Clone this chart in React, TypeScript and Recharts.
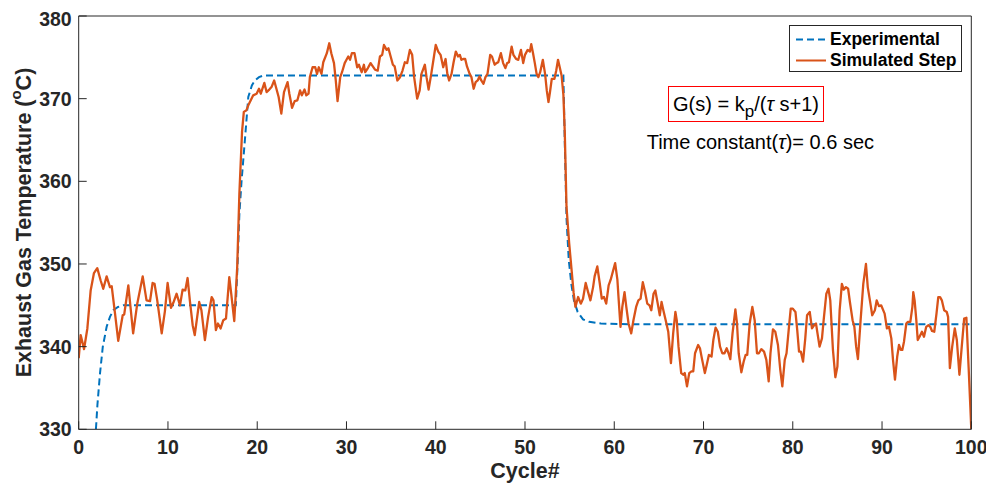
import React from 'react';
import { LineChart, Line, XAxis, YAxis } from 'recharts';

// Simulated step (orange) — cycle numbers and temperatures
const simCycle = [
  0, 0.22, 0.6, 0.97, 1.34, 1.71, 2.08, 2.46, 2.75, 3.13,
  3.5, 3.7, 4.07, 4.43, 4.93, 5.1, 5.56, 6.1, 6.56, 7.17,
  7.6, 7.99, 8.28, 8.5, 8.8, 9.3, 9.66, 9.96, 10.34, 10.6,
  10.97, 11.35, 11.64, 11.94, 12.2, 12.45, 12.77, 13.0, 13.5, 13.75,
  14.14, 14.5, 14.9, 15.1, 15.37, 15.6, 15.9, 16.2, 16.5, 16.87,
  17.1, 17.43, 17.76, 18.0, 18.3, 18.5, 18.8, 19.0, 19.18, 19.55,
  19.93, 20.2, 20.4, 20.8, 21.05, 21.35, 21.6, 21.9, 22.15, 22.4,
  22.7, 23.0, 23.4, 23.6, 23.9, 24.2, 24.5, 24.8, 25.0, 25.3,
  25.5, 25.75, 25.9, 26.2, 26.5, 26.7, 26.9, 27.2, 27.4, 27.8,
  28.07, 28.3, 28.6, 28.8, 29.0, 29.3, 29.5, 29.8, 30.0, 30.2,
  30.4, 30.6, 30.9, 31.2, 31.4, 31.7, 31.95, 32.1, 32.4, 32.7,
  32.95, 33.2, 33.5, 33.75, 34.0, 34.2, 34.5, 34.7, 34.95, 35.2,
  35.4, 35.7, 36.0, 36.28, 36.54, 36.8, 37.1, 37.36, 37.58, 37.92,
  38.2, 38.4, 38.78, 38.97, 39.2, 39.5, 39.8, 40.0, 40.28, 40.54,
  40.84, 41.1, 41.3, 41.5, 41.77, 42.0, 42.25, 42.5, 42.7, 42.88,
  43.07, 43.3, 43.5, 43.8, 44.0, 44.25, 44.47, 44.7, 44.9, 45.1,
  45.35, 45.57, 45.8, 46.1, 46.3, 46.6, 46.8, 47.0, 47.3, 47.55,
  47.8, 48.0, 48.2, 48.5, 48.7, 49.0, 49.25, 49.55, 49.8, 50.0,
  50.3, 50.55, 50.7, 50.9, 51.1, 51.3, 51.5, 51.7, 52.0, 52.25,
  52.44, 52.63, 52.8, 53.0, 53.3, 53.5, 53.7, 54.1, 54.3, 54.46,
  54.65, 54.95, 55.2, 55.45, 55.65, 55.95, 56.25, 56.5, 56.8, 57.07,
  57.33, 57.63, 57.8, 58.1, 58.37, 58.6, 58.85, 59.1, 59.37, 59.6,
  59.85, 60.1, 60.35, 60.5, 60.7, 60.9, 61.15, 61.35, 61.6, 61.9,
  62.15, 62.45, 62.7, 62.95, 63.2, 63.45, 63.7, 63.95, 64.15, 64.4,
  64.6, 64.87, 65.1, 65.3, 65.5, 65.8, 66.05, 66.35, 66.6, 66.85,
  67.0, 67.2, 67.5, 67.75, 67.9, 68.15, 68.4, 68.65, 68.85, 69.05,
  69.4, 69.6, 69.85, 70.15, 70.4, 70.6, 70.9, 71.1, 71.35, 71.6,
  71.85, 72.1, 72.35, 72.6, 72.8, 73.0, 73.25, 73.57, 73.75, 73.94,
  74.24, 74.5, 74.72, 74.9, 75.17, 75.47, 75.73, 75.99, 76.2, 76.48,
  76.78, 77.04, 77.3, 77.5, 77.78, 78.04, 78.34, 78.6, 78.83, 79.1,
  79.3, 79.54, 79.77, 80.0, 80.3, 80.5, 80.7, 80.9, 81.15, 81.4,
  81.6, 81.9, 82.15, 82.4, 82.6, 82.8, 83.0, 83.27, 83.46, 83.76,
  84.0, 84.2, 84.5, 84.77, 85.0, 85.25, 85.5, 85.7, 85.96, 86.2,
  86.4, 86.7, 86.9, 87.1, 87.3, 87.6, 87.9, 88.2, 88.4, 88.7,
  88.9, 89.2, 89.4, 89.65, 89.9, 90.29, 90.55, 90.78, 91.04, 91.23,
  91.45, 91.7, 91.9, 92.1, 92.27, 92.46, 92.72, 92.9, 93.17, 93.4,
  93.5, 93.65, 93.84, 94.0, 94.2, 94.47, 94.7, 94.95, 95.2, 95.4,
  95.6, 95.85, 96.1, 96.3, 96.5, 96.7, 96.96, 97.25, 97.4, 97.6,
  97.86, 98.15, 98.38, 98.67, 98.9, 99.2, 99.45, 99.7, 100,
];
const simTemp = [
  338.6, 341.4, 339.7, 342.2, 346.8, 348.9, 349.5, 348.0, 347.0, 348.5,
  347.2, 347.3, 344.0, 340.7, 343.8, 343.9, 347.4, 341.6, 345.2, 348.5,
  345.6, 345.5, 347.7, 347.6, 345.6, 341.6, 344.3, 347.7, 344.7, 345.3,
  346.4, 345.0, 346.9, 346.8, 348.3, 345.6, 342.6, 341.4, 345.4, 344.4,
  340.8, 343.6, 346.0, 345.6, 342.0, 342.8, 342.2, 343.2, 343.4, 348.4,
  346.3, 343.1, 349.7, 358.5, 366.0, 368.4, 368.6, 369.2, 369.6, 370.4,
  370.6, 371.2, 370.6, 371.9, 370.8, 371.1, 371.4, 372.2, 371.2, 370.2,
  368.2, 370.8, 372.0, 370.6, 368.9, 369.7, 369.8, 371.0, 370.4, 371.1,
  370.4, 370.6, 372.6, 373.8, 373.8, 373.0, 373.8, 373.0, 374.4, 375.5,
  376.7, 375.5, 374.3, 372.2, 369.7, 372.6, 373.2, 374.3, 374.7, 375.1,
  374.7, 375.5, 375.5, 373.8, 374.1, 373.2, 374.1, 373.2, 373.7, 374.3,
  373.9, 373.5, 373.4, 375.1, 375.3, 376.5, 375.9, 376.1, 375.1, 374.1,
  373.9, 372.2, 372.6, 373.4, 374.4, 374.3, 375.9, 375.3, 372.6, 370.0,
  371.0, 373.0, 374.1, 372.6, 371.1, 373.0, 375.1, 376.5, 375.7, 375.3,
  373.8, 374.8, 373.0, 372.2, 373.0, 374.4, 375.7, 375.1, 375.3, 374.7,
  374.8, 374.8, 373.9, 373.0, 372.6, 371.2, 372.0, 372.2, 372.7, 372.2,
  371.8, 372.6, 373.0, 375.3, 375.1, 374.1, 374.3, 374.4, 375.5, 374.3,
  373.7, 374.3, 374.4, 376.3, 375.3, 374.8, 374.7, 375.9, 374.3, 375.3,
  375.9, 375.7, 376.6, 375.5, 374.3, 373.0, 372.6, 373.2, 374.7, 373.0,
  371.0, 369.6, 370.8, 372.4, 372.4, 373.4, 374.7, 372.8, 370.5, 365.8,
  356.9, 352.5, 349.5, 346.5, 344.8, 346.0, 345.2, 345.8, 347.7, 346.6,
  345.6, 347.2, 348.5, 349.7, 347.7, 345.8, 346.0, 345.2, 347.4, 348.1,
  349.1, 350.1, 348.1, 345.6, 342.4, 344.8, 346.6, 344.8, 342.8, 341.6,
  343.2, 344.8, 345.6, 345.8, 347.8, 346.6, 345.2, 345.0, 344.4, 346.4,
  346.8, 345.2, 343.8, 345.4, 344.4, 343.0, 341.8, 338.0, 341.6, 344.2,
  343.2, 340.0, 336.8, 336.6, 336.8, 335.2, 336.8, 337.0, 337.0, 339.2,
  340.2, 339.8, 338.4, 336.8, 338.0, 339.0, 338.8, 340.8, 342.3, 341.8,
  340.0, 339.2, 339.2, 339.8, 339.2, 338.5, 341.6, 344.5, 342.8, 339.2,
  336.9, 338.2, 339.0, 339.0, 342.8, 344.8, 343.2, 339.2, 339.2, 339.7,
  339.4, 338.4, 335.8, 339.2, 342.1, 341.8, 340.2, 337.2, 335.2, 338.4,
  339.2, 342.0, 344.6, 344.6, 344.2, 342.0, 339.4, 339.4, 338.2, 341.0,
  343.8, 344.2, 342.2, 342.6, 342.8, 341.4, 340.0, 341.0, 343.2, 346.4,
  347.0, 345.6, 339.6, 336.3, 337.6, 344.4, 347.6, 346.9, 347.2, 347.0,
  345.4, 343.2, 342.4, 340.0, 338.5, 343.2, 347.6, 350.0, 347.2, 345.2,
  343.8, 344.4, 345.6, 344.9, 345.0, 344.0, 342.2, 342.4, 341.0, 338.4,
  336.0, 338.8, 340.2, 339.6, 339.6, 340.6, 342.8, 343.0, 343.0, 344.8,
  346.6, 345.6, 343.2, 340.8, 341.2, 341.8, 341.2, 342.4, 342.6, 342.4,
  341.9, 341.8, 344.0, 346.0, 346.0, 345.6, 344.4, 344.2, 343.6, 337.4,
  340.0, 342.2, 340.8, 336.6, 339.6, 343.4, 343.5, 337.5, 330,
];

// Experimental (blue dashed)
const expCycle = [
  1.93, 2.1, 2.39, 2.7, 3.13, 3.5, 3.88, 4.4, 5.0,
  17.6, 17.8, 18.0, 18.25, 18.62, 19.0, 19.4, 19.74, 20.2, 20.7,
  54.3, 54.45, 54.65, 54.9, 55.2, 55.5, 55.9, 56.5, 57.2, 58.5, 62, 100,
];
const expTemp = [
  330, 333, 336.8, 340, 342.4, 343.6, 344.4, 344.8, 345,
  345, 350, 356, 360.1, 365, 370.2, 371.6, 372.2, 372.6, 372.8,
  372.8, 365, 355.5, 350.5, 347.5, 345.5, 344.2, 343.3, 343.0, 342.8, 342.7, 342.7,
];

const xTicks = [0, 10, 20, 30, 40, 50, 60, 70, 80, 90, 100];
const yTicks = [330, 340, 350, 360, 370, 380];

const seriesNames = ['Experimental', 'Simulated Step'];
const xLabel = 'Cycle#';
const modelText = 'G(s) = k';
const tauText = 'Time constant(';
const tauValue = ')= 0.6 sec';

const simData = simCycle.map((c, i) => ({ x: c, y: simTemp[i] }));
const expData = expCycle.map((c, i) => ({ x: c, y: expTemp[i] }));

const BLUE = '#0072BD';
const ORANGE = '#D95319';
const AXIS = '#262626';
const FONT = '"Liberation Sans", Arial, Helvetica, sans-serif';

const YLabel = () => (
  <text
    x={16.5}
    y={214.5}
    transform="rotate(-90 16.5 214.5)"
    textAnchor="middle"
    dominantBaseline="central"
    fontFamily={FONT}
    fontWeight="bold"
    fontSize={21.5}
    fill={AXIS}
  >
    Exhaust Gas Temperature (
    <tspan fontSize={15} dy={-9}>o</tspan>
    <tspan dy={9}>C)</tspan>
  </text>
);

const XLabel = () => (
  <text
    x={517}
    y={469.7}
    textAnchor="middle"
    fontFamily={FONT}
    fontWeight="bold"
    fontSize={21.5}
    fill={AXIS}
  >
    {xLabel}
  </text>
);

export default function App() {
  const tickStyle = { fontFamily: FONT, fontWeight: 'bold' as const, fontSize: 19.5, fill: AXIS };
  return (
    <div style={{ position: 'relative', width: 978.3, height: 475 }}>
      <LineChart
        width={978.3}
        height={475}
        margin={{ top: 7, right: 14, left: 0, bottom: 0 }}
      >
        <XAxis
          xAxisId="b"
          dataKey="x"
          type="number"
          domain={[0, 100]}
          ticks={xTicks}
          allowDataOverflow
          height={53.7}
          tickSize={-8}
          tickMargin={19}
          tick={tickStyle}
          stroke={AXIS}
          tickLine={{ stroke: AXIS }}
          axisLine={{ stroke: AXIS }}
          label={<XLabel />}
        />
        <XAxis
          xAxisId="t"
          orientation="top"
          dataKey="x"
          type="number"
          domain={[0, 100]}
          ticks={xTicks}
          height={1}
          tickSize={-8}
          tickFormatter={() => ''}
          stroke={AXIS}
        />
        <YAxis
          yAxisId="l"
          type="number"
          domain={[330, 380]}
          ticks={yTicks}
          allowDataOverflow
          width={70.7}
          tickSize={-8}
          tickMargin={15}
          tick={tickStyle}
          stroke={AXIS}
          label={<YLabel />}
        />
        <YAxis
          yAxisId="r"
          orientation="right"
          type="number"
          domain={[330, 380]}
          ticks={yTicks}
          width={1}
          tickSize={-8}
          tickFormatter={() => ''}
          stroke={AXIS}
        />
        <Line
          xAxisId="b"
          yAxisId="l"
          data={expData}
          dataKey="y"
          name={seriesNames[0]}
          type="linear"
          stroke={BLUE}
          strokeWidth={2}
          strokeDasharray="7 4"
          dot={false}
          isAnimationActive={false}
        />
        <Line
          xAxisId="b"
          yAxisId="l"
          data={simData}
          dataKey="y"
          name={seriesNames[1]}
          type="linear"
          stroke={ORANGE}
          strokeWidth={2.3}
          strokeLinejoin="round"
          dot={false}
          isAnimationActive={false}
        />
      </LineChart>

      {/* Legend */}
      <div
        style={{
          position: 'absolute',
          left: 781,
          top: 17,
          width: 171,
          height: 45,
          border: `1px solid ${AXIS}`,
          background: '#fff',
          fontFamily: FONT,
          fontWeight: 'bold',
          fontSize: 17.5,
          color: '#000',
        }}
      >
        {seriesNames.map((name, i) => (
          <div
            key={name}
            style={{ position: 'absolute', left: 0, top: i === 0 ? 3 : 24, height: 21, display: 'flex', alignItems: 'center', whiteSpace: 'nowrap' }}
          >
            <svg width={40} height={21} style={{ display: 'block' }}>
              <line
                x1={6}
                x2={36}
                y1={10.5}
                y2={10.5}
                stroke={i === 0 ? BLUE : ORANGE}
                strokeWidth={2}
                strokeDasharray={i === 0 ? '7 4' : undefined}
              />
            </svg>
            <span>{name}</span>
          </div>
        ))}
      </div>

      {/* Model annotation */}
      <div
        style={{
          position: 'absolute',
          left: 660,
          top: 78,
          width: 154,
          height: 34,
          border: '1px solid #FF0000',
          display: 'flex',
          alignItems: 'center',
          justifyContent: 'center',
          fontFamily: FONT,
          fontSize: 20,
          color: '#000',
          whiteSpace: 'nowrap',
          lineHeight: '22px',
        }}
      >
        <span>{modelText}</span>
        <span style={{ position: 'relative', top: 8, fontSize: 17 }}>p</span>
        <span>/(</span>
        <span style={{ fontStyle: 'italic' }}>τ</span>
        <span>&nbsp;s+1)</span>
      </div>

      <div
        style={{
          position: 'absolute',
          left: 638.7,
          top: 123,
          height: 23,
          lineHeight: '23px',
          fontFamily: FONT,
          fontSize: 20,
          color: '#000',
          whiteSpace: 'nowrap',
        }}
      >
        {tauText}
        <span style={{ fontStyle: 'italic' }}>τ</span>
        {tauValue}
      </div>
    </div>
  );
}
